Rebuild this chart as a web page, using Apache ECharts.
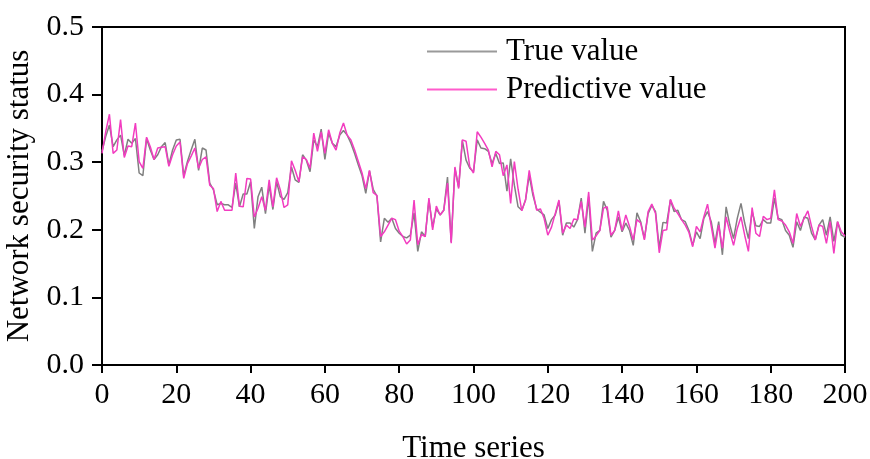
<!DOCTYPE html>
<html>
<head>
<meta charset="utf-8">
<script src="https://cdn.jsdelivr.net/npm/echarts@6/dist/echarts.min.js"></script>
<style>html,body{margin:0;padding:0;background:#fff}#c{width:870px;height:459px}</style>
</head>
<body>
<div id="c"></div>
<script>
const seriesNames = ['True value', 'Predictive value'];
const xTicks = [0, 20, 40, 60, 80, 100, 120, 140, 160, 180, 200];
const yTicks = [0.0, 0.1, 0.2, 0.3, 0.4, 0.5];
const trueVals = [
 0.316,0.338,0.355,0.323,0.333,0.340,0.310,0.334,0.328,0.335,
 0.284,0.280,0.335,0.318,0.304,0.311,0.323,0.329,0.296,0.318,
 0.333,0.334,0.280,0.301,0.318,0.334,0.288,0.321,0.318,0.269,
 0.259,0.237,0.239,0.237,0.237,0.233,0.269,0.234,0.253,0.253,
 0.271,0.202,0.249,0.263,0.224,0.266,0.230,0.271,0.249,0.245,
 0.255,0.293,0.274,0.270,0.311,0.303,0.286,0.333,0.323,0.349,
 0.304,0.343,0.328,0.323,0.340,0.347,0.340,0.328,0.313,0.296,
 0.280,0.254,0.287,0.260,0.250,0.182,0.217,0.211,0.217,0.202,
 0.195,0.190,0.188,0.192,0.225,0.168,0.197,0.190,0.244,0.204,
 0.231,0.222,0.229,0.278,0.182,0.291,0.263,0.332,0.303,0.291,
 0.286,0.333,0.321,0.320,0.316,0.298,0.313,0.298,0.299,0.257,
 0.305,0.266,0.234,0.229,0.244,0.281,0.251,0.231,0.226,0.222,
 0.202,0.215,0.222,0.242,0.192,0.210,0.210,0.204,0.215,0.247,
 0.195,0.249,0.168,0.195,0.199,0.242,0.229,0.189,0.199,0.219,
 0.197,0.210,0.199,0.177,0.225,0.212,0.187,0.224,0.236,0.227,
 0.173,0.211,0.210,0.244,0.227,0.229,0.215,0.212,0.199,0.177,
 0.197,0.187,0.217,0.227,0.212,0.180,0.212,0.163,0.234,0.207,
 0.187,0.217,0.239,0.210,0.187,0.227,0.206,0.205,0.215,0.210,
 0.210,0.247,0.217,0.215,0.199,0.192,0.174,0.212,0.199,0.219,
 0.217,0.195,0.185,0.207,0.215,0.192,0.219,0.183,0.212,0.192,
 0.189
];
const predVals = [
 0.313,0.345,0.371,0.313,0.318,0.363,0.307,0.324,0.323,0.358,
 0.301,0.291,0.337,0.323,0.304,0.321,0.322,0.323,0.294,0.311,
 0.324,0.330,0.276,0.298,0.309,0.321,0.291,0.304,0.308,0.266,
 0.261,0.227,0.242,0.229,0.229,0.229,0.284,0.235,0.234,0.276,
 0.275,0.219,0.232,0.249,0.229,0.274,0.234,0.277,0.259,0.233,
 0.237,0.302,0.288,0.271,0.308,0.304,0.291,0.343,0.316,0.345,
 0.313,0.348,0.328,0.318,0.343,0.358,0.340,0.333,0.318,0.301,
 0.284,0.261,0.288,0.255,0.251,0.190,0.197,0.207,0.217,0.215,
 0.198,0.190,0.179,0.185,0.244,0.178,0.193,0.190,0.247,0.200,
 0.235,0.222,0.229,0.269,0.180,0.293,0.261,0.333,0.331,0.293,
 0.284,0.345,0.337,0.328,0.318,0.293,0.316,0.311,0.280,0.296,
 0.239,0.301,0.260,0.228,0.244,0.288,0.256,0.229,0.231,0.217,
 0.192,0.204,0.224,0.244,0.195,0.207,0.202,0.216,0.215,0.242,
 0.204,0.256,0.185,0.191,0.199,0.232,0.234,0.192,0.199,0.228,
 0.199,0.222,0.205,0.185,0.215,0.210,0.185,0.227,0.238,0.224,
 0.166,0.199,0.200,0.245,0.232,0.224,0.215,0.207,0.196,0.175,
 0.205,0.197,0.219,0.238,0.205,0.173,0.207,0.173,0.219,0.197,
 0.177,0.202,0.219,0.192,0.168,0.233,0.195,0.190,0.220,0.215,
 0.217,0.259,0.215,0.213,0.207,0.197,0.180,0.224,0.205,0.217,
 0.228,0.205,0.185,0.207,0.205,0.180,0.212,0.165,0.212,0.197,
 0.191
];

const FONT = 'Liberation Serif';
const chart = echarts.init(document.getElementById('c'), null, {renderer: 'canvas'});
const toPairs = arr => arr.map((v, i) => [i, v]);

chart.setOption({
  animation: false,
  backgroundColor: '#fff',
  grid: {left: 102, right: 25, top: 27, bottom: 94, containLabel: false, outerBoundsMode: 'none',
         show: true, borderColor: '#000', borderWidth: 2, backgroundColor: 'transparent'},
  legend: {
    orient: 'vertical', left: 422, top: 31, itemWidth: 70, itemHeight: 2, itemGap: 7,
    icon: 'rect',
    textStyle: {fontFamily: FONT, fontSize: 31, color: '#000', padding: [0, 0, 0, 4]},
    data: seriesNames
  },
  xAxis: {
    type: 'value', min: xTicks[0], max: xTicks[xTicks.length - 1], interval: 20,
    name: 'Time series', nameLocation: 'middle', nameGap: 68,
    nameTextStyle: {fontFamily: FONT, fontSize: 31, color: '#000'},
    axisLine: {show: true, lineStyle: {color: '#000', width: 2}},
    axisTick: {show: true, inside: false, length: 8, lineStyle: {color: '#000', width: 2}},
    axisLabel: {fontFamily: FONT, fontSize: 30, color: '#000', margin: 15},
    splitLine: {show: false}
  },
  yAxis: {
    type: 'value', min: yTicks[0], max: yTicks[yTicks.length - 1], interval: 0.1,
    name: 'Network security status', nameLocation: 'middle', nameGap: 60,
    nameTextStyle: {fontFamily: FONT, fontSize: 31, color: '#000'},
    axisLine: {show: true, lineStyle: {color: '#000', width: 2}},
    axisTick: {show: true, inside: false, length: 10, lineStyle: {color: '#000', width: 2}},
    axisLabel: {fontFamily: FONT, fontSize: 30, color: '#000', margin: 18, formatter: v => v.toFixed(1)},
    splitLine: {show: false}
  },
  series: [
    {name: seriesNames[0], type: 'line', data: toPairs(trueVals), symbol: 'none',
     lineStyle: {color: '#808080', width: 1.5}, itemStyle: {color: '#9a9a9a'}},
    {name: seriesNames[1], type: 'line', data: toPairs(predVals), symbol: 'none',
     lineStyle: {color: '#f23cc0', width: 1.5}, itemStyle: {color: '#ff5ccc'}}
  ]
});
</script>
</body>
</html>
